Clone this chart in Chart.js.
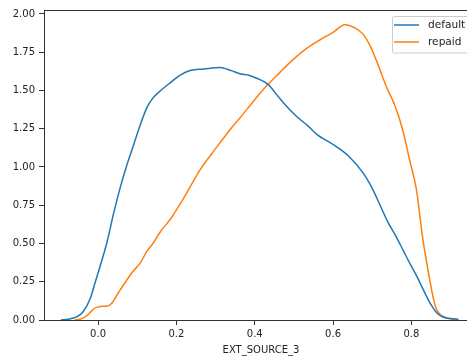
<!DOCTYPE html>
<html>
<head>
<meta charset="utf-8">
<script src="https://cdn.jsdelivr.net/npm/chart.js@4"></script>
<style>
  body { margin: 0; overflow: hidden; background: #fff; }
</style>
</head>
<body>
<canvas id="myChart" width="480" height="357"></canvas>
<script>
// kde curves
const defaultX = [-0.095, -0.075, -0.055, -0.038, -0.02, -0.008, 0.005, 0.022, 0.04, 0.056, 0.072, 0.089, 0.107, 0.125, 0.14, 0.16, 0.184, 0.21, 0.235, 0.27, 0.311, 0.34, 0.362, 0.385, 0.405, 0.434, 0.46, 0.48, 0.507, 0.535, 0.56, 0.585, 0.61, 0.64, 0.677, 0.70, 0.72, 0.74, 0.762, 0.78, 0.796, 0.815, 0.83, 0.85, 0.865, 0.88, 0.90, 0.92];
const defaultY = [0.0, 0.005, 0.02, 0.054, 0.14, 0.24, 0.35, 0.50, 0.70, 0.86, 1.0, 1.13, 1.27, 1.39, 1.45, 1.50, 1.55, 1.60, 1.63, 1.64, 1.65, 1.63, 1.61, 1.60, 1.58, 1.54, 1.46, 1.40, 1.33, 1.27, 1.21, 1.17, 1.13, 1.07, 0.96, 0.86, 0.75, 0.64, 0.54, 0.45, 0.37, 0.28, 0.20, 0.10, 0.046, 0.02, 0.01, 0.005];

const repaidX = [-0.06, -0.046, -0.03, -0.02, -0.01, 0.0, 0.012, 0.023, 0.035, 0.05, 0.073, 0.09, 0.107, 0.125, 0.14, 0.16, 0.185, 0.21, 0.235, 0.26, 0.3, 0.345, 0.362, 0.40, 0.434, 0.465, 0.497, 0.53, 0.566, 0.60, 0.63, 0.655, 0.676, 0.695, 0.71, 0.737, 0.758, 0.778, 0.795, 0.813, 0.828, 0.847, 0.857, 0.865, 0.877, 0.89, 0.905, 0.92];
const repaidY = [0.0, 0.005, 0.025, 0.05, 0.075, 0.085, 0.09, 0.09, 0.11, 0.17, 0.26, 0.32, 0.37, 0.45, 0.50, 0.58, 0.66, 0.76, 0.87, 0.98, 1.12, 1.27, 1.32, 1.44, 1.54, 1.62, 1.70, 1.77, 1.83, 1.88, 1.93, 1.91, 1.87, 1.79, 1.70, 1.52, 1.40, 1.24, 1.05, 0.85, 0.55, 0.26, 0.13, 0.065, 0.03, 0.013, 0.005, 0.0];

const xTicks = [0.0, 0.2, 0.4, 0.6, 0.8];
const yTicks = [0.0, 0.25, 0.5, 0.75, 1.0, 1.25, 1.5, 1.75, 2.0];
const labels = ['default', 'repaid'];
const xTitle = 'EXT_SOURCE_3';

const toPoints = (xs, ys) => xs.map((x, i) => ({ x: x, y: ys[i] }));

const font = { family: 'DejaVu Sans', size: 10 };
const axisColor = '#333';

// top and right spines (the right one falls outside the window)
const framePlugin = {
    id: 'frame',
    afterDraw(chart) {
        const { ctx, chartArea: a } = chart;
        ctx.save();
        ctx.strokeStyle = axisColor;
        ctx.lineWidth = 1;
        ctx.beginPath();
        ctx.moveTo(a.left, a.top + 0.5);
        ctx.lineTo(a.right, a.top + 0.5);
        ctx.lineTo(a.right, a.bottom);
        ctx.stroke();
        ctx.restore();
    }
};

// matplotlib style legend box, upper right
const legendPlugin = {
    id: 'mplLegend',
    afterDraw(chart) {
        const { ctx, chartArea: a } = chart;
        const x0 = 392, y0 = 16.5;
        ctx.save();
        ctx.fillStyle = 'rgba(255,255,255,0.8)';
        ctx.strokeStyle = '#ccc';
        ctx.lineWidth = 1;
        ctx.beginPath();
        ctx.roundRect(x0 + 0.5, y0, a.right - 5 - x0, 36.5, 2);
        ctx.fill();
        ctx.stroke();
        ctx.font = '10.6px "DejaVu Sans"';
        ctx.textBaseline = 'middle';
        chart.data.datasets.forEach((ds, i) => {
            const y = 25 + i * 17;
            ctx.strokeStyle = ds.borderColor;
            ctx.lineWidth = 1.5;
            ctx.beginPath();
            ctx.moveTo(394, y);
            ctx.lineTo(419, y);
            ctx.stroke();
            ctx.fillStyle = '#222';
            ctx.fillText(ds.label, 428, y);
        });
        ctx.restore();
    }
};

const config = {
    type: 'line',
    data: {
        datasets: [{
            label: labels[0],
            data: toPoints(defaultX, defaultY),
            borderColor: '#1f77b4',
            borderWidth: 1.5,
            pointRadius: 0,
            cubicInterpolationMode: 'monotone',
            fill: false
        }, {
            label: labels[1],
            data: toPoints(repaidX, repaidY),
            borderColor: '#ff7f0e',
            borderWidth: 1.5,
            pointRadius: 0,
            cubicInterpolationMode: 'monotone',
            fill: false
        }]
    },
    options: {
        responsive: false,
        animation: false,
        layout: { padding: { left: 0, top: 10, right: 2, bottom: 0 } },
        plugins: {
            legend: { display: false },
            tooltip: { enabled: false }
        },
        scales: {
            x: {
                type: 'linear',
                min: -0.138,
                max: 0.97,
                afterBuildTicks: s => { s.ticks = xTicks.map(v => ({ value: v })); },
                afterFit: s => { s.height = 37; },
                ticks: {
                    font: font,
                    color: '#222',
                    padding: 3,
                    maxRotation: 0,
                    callback: v => v.toFixed(1)
                },
                grid: {
                    drawOnChartArea: false,
                    drawTicks: true,
                    tickLength: 5,
                    color: axisColor
                },
                border: { display: true, color: axisColor, width: 1 },
                title: {
                    display: true,
                    text: xTitle,
                    font: font,
                    color: '#222',
                    padding: { top: 0, bottom: 1 }
                }
            },
            y: {
                min: 0,
                max: 2.026,
                afterBuildTicks: s => { s.ticks = yTicks.map(v => ({ value: v })); },
                afterFit: s => { s.width = 44; },
                ticks: {
                    font: font,
                    color: '#222',
                    padding: 4,
                    callback: v => v.toFixed(2)
                },
                grid: {
                    drawOnChartArea: false,
                    drawTicks: true,
                    tickLength: 5,
                    color: axisColor
                },
                border: { display: true, color: axisColor, width: 1 }
            }
        }
    },
    plugins: [framePlugin, legendPlugin]
};

const myChart = new Chart(document.getElementById('myChart'), config);
</script>
</body>
</html>
